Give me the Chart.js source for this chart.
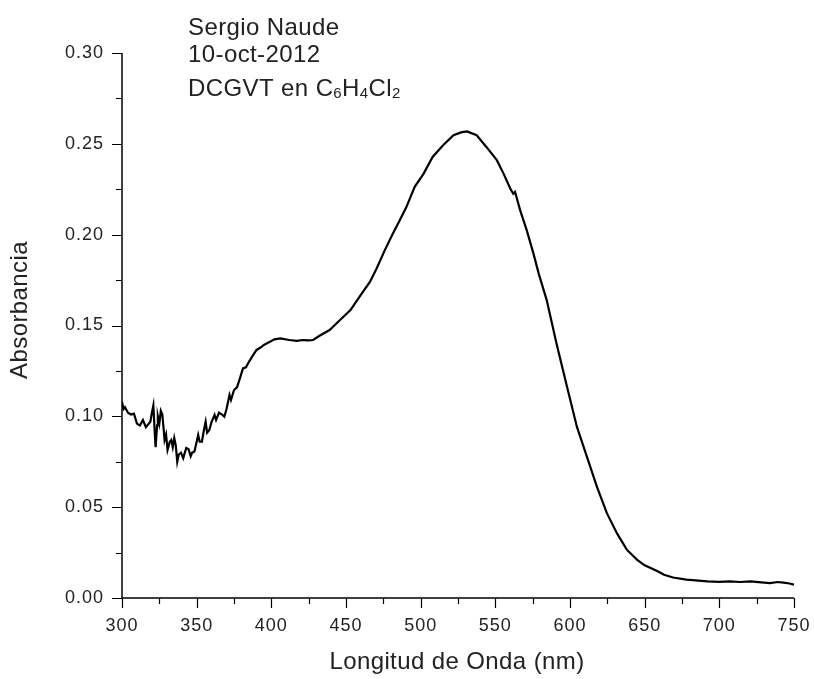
<!DOCTYPE html>
<html>
<head>
<meta charset="utf-8">
<script src="https://cdn.jsdelivr.net/npm/chart.js@4.4.0/dist/chart.umd.min.js"></script>
<style>
  html, body { margin: 0; padding: 0; background: #fff; }
  #wrap { width: 814px; height: 679px; }
</style>
</head>
<body>
<div id="wrap"><canvas id="c" width="814" height="679"></canvas></div>
<script>
// Wavelength (nm) and absorbance
const wavelengths = [
  300,301,302,304,306,308,310,312,314,316,317,319,320,321,322,322.5,323.5,324,325,326,327,328,328.5,329.5,330.5,
  332,333,334,335,336,337,338,339.5,341,343,344.5,346,347,348.5,350,351,352,353.5,355,356,357,358.5,360,362,363,
  365,367,368.5,370,372,373,375,377,379,381,383,385,388,390,393,395,399,402,406,412,417,421,425,428,432,439,446,
  453,459,466,470.5,476,481,486,490.5,496,502,508,515,522,527,531,537.5,544,551,555.5,560,562,563.2,566.6,571,
  575.5,579,584.4,591,598,604.6,611.3,618,624.7,631.4,638,645,650,654,659,663,669,678,692,700,707,714,721,728,
  734,739,743,747,750
];
const absorbance = [
  0.108,0.104,0.105,0.102,0.101,0.1015,0.096,0.095,0.098,0.094,0.095,0.097,0.102,0.106,0.090,0.083,0.095,0.100,0.096,0.103,0.101,0.092,0.087,0.090,0.0815,
  0.086,0.087,0.083,0.088,0.084,0.075,0.079,0.080,0.077,0.0826,0.082,0.078,0.080,0.0806,0.086,0.0898,0.086,0.086,0.093,0.097,0.091,0.0925,0.097,0.1008,0.098,
  0.102,0.101,0.0998,0.104,0.1118,0.109,0.1145,0.116,0.121,0.1264,0.127,0.130,0.134,0.1365,0.138,0.1393,0.141,0.1424,0.1429,0.142,0.1415,0.142,0.1418,0.142,0.1442,0.1475,0.153,
  0.1585,0.1658,0.174,0.1814,0.1915,0.200,0.208,0.2153,0.2263,0.2336,0.2428,0.2492,0.2547,0.2563,0.2568,0.2547,0.2483,0.241,0.2336,0.2254,0.2225,0.2235,0.2135,0.2025,
  0.1897,0.1787,0.164,0.140,0.1163,0.0943,0.0778,0.0613,0.0467,0.0357,0.0266,0.021,0.018,0.0165,0.0146,0.0128,0.0113,0.0101,0.0091,0.0089,0.0091,0.0088,0.0091,0.0086,
  0.0082,0.0088,0.0085,0.0080,0.0073
];
const xMajorTicks = [300,350,400,450,500,550,600,650,700,750];
const xMinorTicks = [325,375,425,475,525,575,625,675,725];
const yMajorTicks = [0.00,0.05,0.10,0.15,0.20,0.25,0.30];
const yMinorTicks = [0.025,0.075,0.125,0.175,0.225,0.275];
const annotationLines = ["Sergio Naude", "10-oct-2012"];
const xTitle = "Longitud de Onda (nm)";
const yTitle = "Absorbancia";

const FONT = '"Liberation Sans", Arial, sans-serif';

const points = wavelengths.map((w, i) => ({ x: w, y: absorbance[i] }));

const spacingPlugin = {
  id: 'spacing',
  beforeDraw(chart) { chart.ctx.letterSpacing = '1px'; }
};

const decorPlugin = {
  id: 'decor',
  afterDraw(chart) {
    const ctx = chart.ctx;
    const xs = chart.scales.x, ys = chart.scales.y;
    const area = chart.chartArea;
    ctx.save();
    ctx.strokeStyle = '#000';
    ctx.lineWidth = 1.5;
    // axis lines
    ctx.beginPath();
    ctx.moveTo(area.left, ys.getPixelForValue(0.30));
    ctx.lineTo(area.left, ys.getPixelForValue(0));
    ctx.lineTo(xs.getPixelForValue(750), ys.getPixelForValue(0));
    ctx.stroke();
    // ticks
    ctx.lineWidth = 1.2;
    const yb = ys.getPixelForValue(0);
    const xl = xs.getPixelForValue(300);
    ctx.beginPath();
    xMajorTicks.forEach(v => { const p = Math.round(xs.getPixelForValue(v)) + 0.5; ctx.moveTo(p, yb); ctx.lineTo(p, yb + 10); });
    xMinorTicks.forEach(v => { const p = Math.round(xs.getPixelForValue(v)) + 0.5; ctx.moveTo(p, yb); ctx.lineTo(p, yb + 6); });
    yMajorTicks.forEach(v => { const p = Math.round(ys.getPixelForValue(v)) + 0.5; ctx.moveTo(xl, p); ctx.lineTo(xl - 10, p); });
    yMinorTicks.forEach(v => { const p = Math.round(ys.getPixelForValue(v)) + 0.5; ctx.moveTo(xl, p); ctx.lineTo(xl - 6, p); });
    ctx.stroke();

    // axis titles
    ctx.fillStyle = '#222';
    ctx.letterSpacing = '0.4px';
    ctx.font = '24px ' + FONT;
    ctx.textAlign = 'center';
    ctx.textBaseline = 'middle';
    ctx.fillText(xTitle, 457, 662);
    ctx.save();
    ctx.translate(20, 310);
    ctx.rotate(-Math.PI / 2);
    ctx.fillText(yTitle, 0, 0);
    ctx.restore();

    // annotation
    ctx.textAlign = 'left';
    ctx.textBaseline = 'alphabetic';
    ctx.font = '24px ' + FONT;
    ctx.fillText(annotationLines[0], 188, 35);
    ctx.fillText(annotationLines[1], 188, 62);
    const parts = [["DCGVT en C", false], ["6", true], ["H", false], ["4", true], ["Cl", false], ["2", true]];
    let x = 188;
    parts.forEach(([t, sub]) => {
      ctx.font = (sub ? '15px ' : '24px ') + FONT;
      ctx.fillText(t, x, sub ? 98 : 96);
      x += ctx.measureText(t).width;
    });
    ctx.restore();
  }
};

new Chart(document.getElementById('c'), {
  type: 'line',
  data: {
    datasets: [{
      data: points,
      borderColor: '#000',
      borderWidth: 2.2,
      pointRadius: 0,
      tension: 0,
      fill: false
    }]
  },
  options: {
    responsive: false,
    animation: false,
    events: [],
    layout: { padding: { top: 53, right: 20, left: 0, bottom: 0 } },
    plugins: { legend: { display: false }, tooltip: { enabled: false } },
    scales: {
      x: {
        type: 'linear',
        min: 300, max: 750,
        afterFit(s) { s.height = 81; s.paddingLeft = 0; s.paddingRight = 0; },
        afterBuildTicks(s) { s.ticks = xMajorTicks.map(v => ({ value: v })); },
        border: { display: false },
        grid: { display: false, drawTicks: false },
        ticks: {
          color: '#222',
          font: { family: FONT, size: 18 },
          padding: 17,
          maxRotation: 0,
          autoSkip: false,
          callback: v => String(v)
        }
      },
      y: {
        type: 'linear',
        min: 0, max: 0.30,
        afterFit(s) { s.width = 122; s.paddingTop = 0; s.paddingBottom = 0; },
        afterBuildTicks(s) { s.ticks = yMajorTicks.map(v => ({ value: v })); },
        border: { display: false },
        grid: { display: false, drawTicks: false },
        ticks: {
          color: '#222',
          font: { family: FONT, size: 18 },
          padding: 18,
          autoSkip: false,
          callback: v => Number(v).toFixed(2)
        }
      }
    }
  },
  plugins: [spacingPlugin, decorPlugin]
});
</script>
</body>
</html>
